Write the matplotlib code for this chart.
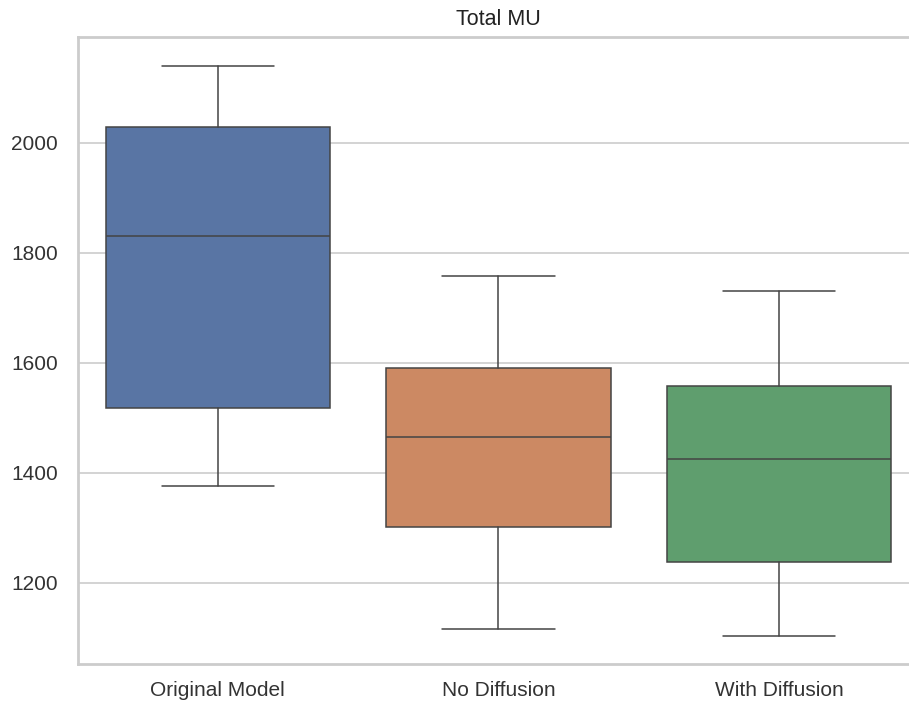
import matplotlib
matplotlib.use("Agg")
import matplotlib.pyplot as plt
import seaborn as sns

sns.set_theme(style="whitegrid")
plt.rcParams['font.family'] = ['Liberation Sans', 'DejaVu Sans']

# Five-number summaries of Total MU per model variant
categories = ["Original Model", "No Diffusion", "With Diffusion"]
whisker_low = [1376, 1116, 1104]
q1 = [1518, 1302, 1238]
median = [1831, 1465, 1425]
q3 = [2029, 1591, 1558]
whisker_high = [2140, 1758, 1731]

palette = [sns.desaturate(c, 0.75) for c in sns.color_palette("deep", 3)]

fig = plt.figure(figsize=(9.09, 7.04), dpi=100)
ax = fig.add_axes([0.0853, 0.0568, 0.926, 0.8906])

stats = []
for i, name in enumerate(categories):
    stats.append(dict(label=name, whislo=whisker_low[i], q1=q1[i], med=median[i],
                      q3=q3[i], whishi=whisker_high[i], fliers=[]))

line_kw = dict(color="#444444", linewidth=1.1)
bp = ax.bxp(stats, positions=range(len(categories)), widths=0.8, patch_artist=True,
            showfliers=False, boxprops=dict(edgecolor="#444444", linewidth=1.1),
            whiskerprops=line_kw, capprops=line_kw, medianprops=line_kw,
            capwidths=0.4)
for patch, col in zip(bp["boxes"], palette):
    patch.set_facecolor(col)

ax.set_xlim(-0.5, 2.5)
ax.set_yticks([1200, 1400, 1600, 1800, 2000])
ax.set_xticks(range(len(categories)))
ax.set_xticklabels(categories)
ax.tick_params(axis="both", labelsize=15, colors="#333333", length=0)
ax.tick_params(axis="x", pad=12)
ax.tick_params(axis="y", pad=14)
ax.grid(axis="x", visible=False)
ax.grid(axis="y", color="#cccccc", linewidth=1.2)
for sp in ax.spines.values():
    sp.set_color("#cccccc")
    sp.set_linewidth(2)
ax.set_title("Total MU", fontsize=15.5, color="#222222", pad=9)

fig.savefig("out.png", dpi=100)
